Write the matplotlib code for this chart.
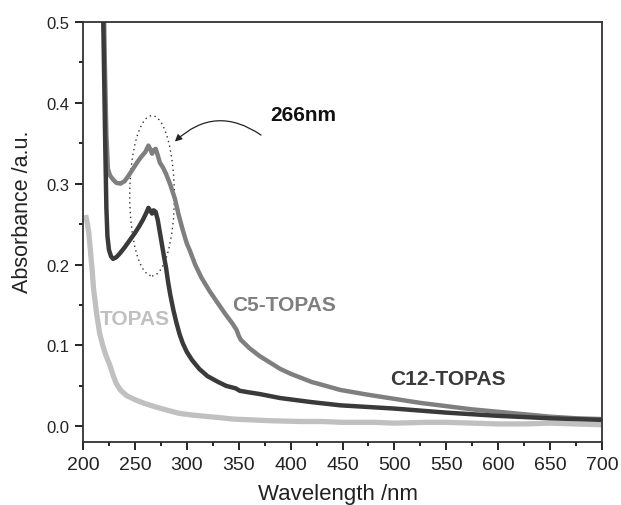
import matplotlib.pyplot as plt
from matplotlib.patches import Ellipse

plt.rcParams['font.family'] = ['Liberation Sans', 'DejaVu Sans']

# C12-TOPAS (dark curve)
wl_c12 = [218, 219.5, 220.5, 221.5, 222.5, 223.5, 225, 227, 229, 232, 235, 240, 245, 250, 254,
          258, 261, 263, 265, 266.5, 268, 270, 272, 274, 276, 278, 280, 282, 284, 287,
          290, 293, 296, 300, 305, 312, 320, 330, 338, 347, 351, 360, 370, 390, 420,
          448, 500, 550, 600, 650, 700]
abs_c12 = [0.62, 0.50, 0.42, 0.34, 0.27, 0.235, 0.218, 0.210, 0.207, 0.209, 0.213, 0.221, 0.230, 0.239, 0.247,
           0.256, 0.264, 0.270, 0.266, 0.263, 0.267, 0.265, 0.255, 0.240, 0.225, 0.210, 0.196, 0.178, 0.163, 0.144,
           0.128, 0.114, 0.103, 0.092, 0.082, 0.071, 0.062, 0.055, 0.050, 0.047, 0.044, 0.042, 0.040, 0.035, 0.030,
           0.026, 0.022, 0.017, 0.013, 0.010, 0.008]

# C5-TOPAS (mid grey curve)
wl_c5 = [219, 221, 222.5, 224, 226, 229, 232, 236, 240, 244, 248, 252, 256, 260, 263,
         265, 266.5, 268, 270, 272, 274, 277, 280, 284, 288.6, 292, 296, 300, 303, 308,
         314, 322, 330, 337, 344, 348, 350, 352, 360, 370, 380, 390, 400, 420, 448,
         475, 500, 525, 550, 575, 600, 625, 650, 675, 700]
abs_c5 = [0.60, 0.45, 0.36, 0.318, 0.310, 0.305, 0.301, 0.300, 0.303, 0.310, 0.318, 0.326, 0.333, 0.339, 0.347,
          0.342, 0.337, 0.341, 0.343, 0.335, 0.326, 0.320, 0.312, 0.299, 0.281, 0.262, 0.243, 0.226, 0.217, 0.200,
          0.184, 0.167, 0.152, 0.139, 0.127, 0.119, 0.112, 0.107, 0.097, 0.087, 0.079, 0.071, 0.065, 0.055, 0.045,
          0.039, 0.034, 0.029, 0.025, 0.021, 0.018, 0.015, 0.012, 0.010, 0.009]

# TOPAS (light grey curve)
wl_topas = [203, 204, 205.5, 207, 209, 210, 213, 216, 219, 222, 226, 229, 232, 236, 242,
            250, 260, 270, 281, 293, 305, 313, 330, 345, 380, 409, 430, 450, 480, 500,
            530, 550, 575, 600, 625, 650, 675, 700]
abs_topas = [0.258, 0.252, 0.240, 0.219, 0.190, 0.172, 0.140, 0.115, 0.100, 0.088, 0.075, 0.063, 0.053, 0.045, 0.038,
             0.033, 0.028, 0.024, 0.020, 0.016, 0.014, 0.013, 0.011, 0.009, 0.007, 0.006, 0.006, 0.005, 0.005, 0.004,
             0.005, 0.005, 0.004, 0.003, 0.003, 0.004, 0.003, 0.002]

fig = plt.figure(figsize=(6.21, 5.06), dpi=100)
ax = fig.add_axes([0.1337, 0.125, 0.8357, 0.830])

ax.plot(wl_topas, abs_topas, color='#c0c0c0', lw=3.8)
ax.plot(wl_c5, abs_c5, color='#7f7f7f', lw=3.2)
ax.plot(wl_c12, abs_c12, color='#3a3a3a', lw=3.2)

ax.set_xlim(200, 700)
ax.set_ylim(-0.019, 0.5)
ax.set_xticks(range(200, 701, 50))
ax.set_xticks(range(225, 700, 50), minor=True)
ax.set_yticks([0.0, 0.1, 0.2, 0.3, 0.4, 0.5])
ax.set_yticks([0.05, 0.15, 0.25, 0.35, 0.45], minor=True)
ax.tick_params(axis='x', which='major', direction='out', length=5.5, width=1.2, labelsize=14, pad=5)
ax.tick_params(axis='y', which='major', direction='out', length=5.5, width=1.2, labelsize=12, pad=4)
ax.tick_params(which='minor', direction='out', length=3, width=1.2)
ax.tick_params(labelcolor='#222222')
for s in ax.spines.values():
    s.set_linewidth(1.3)
    s.set_color('#333333')

ax.set_xlabel('Wavelength /nm', fontsize=16, color='#222222')
ax.set_ylabel('Absorbance /a.u.', fontsize=15.5, color='#222222')
ax.xaxis.set_label_coords(0.491, -0.098)
ax.yaxis.set_label_coords(-0.096, 0.55)

# labels for curves
ax.text(216, 0.133, 'TOPAS', color='#c0c0c0', fontsize=15, fontweight='bold', va='center')
ax.text(344, 0.151, 'C5-TOPAS', color='#7f7f7f', fontsize=15, fontweight='bold', va='center')
ax.text(496, 0.059, 'C12-TOPAS', color='#3a3a3a', fontsize=15, fontweight='bold', va='center')

# dotted ellipse around the 266 nm peaks and the curved arrow
ax.add_patch(Ellipse((266.5, 0.285), 43, 0.198, fill=False, ls=(0, (1, 2.5)), lw=1.0, color='#333333'))
ax.annotate('', xy=(288.5, 0.352), xytext=(371.5, 0.36),
            arrowprops=dict(arrowstyle='-|>', color='#222222', lw=0.9, mutation_scale=10,
                            connectionstyle='arc3,rad=0.4', shrinkA=0, shrinkB=0))
ax.text(380, 0.386, '266nm', fontsize=15, fontweight='bold', va='center', color='#111111')

fig.savefig('out.png', dpi=100)
